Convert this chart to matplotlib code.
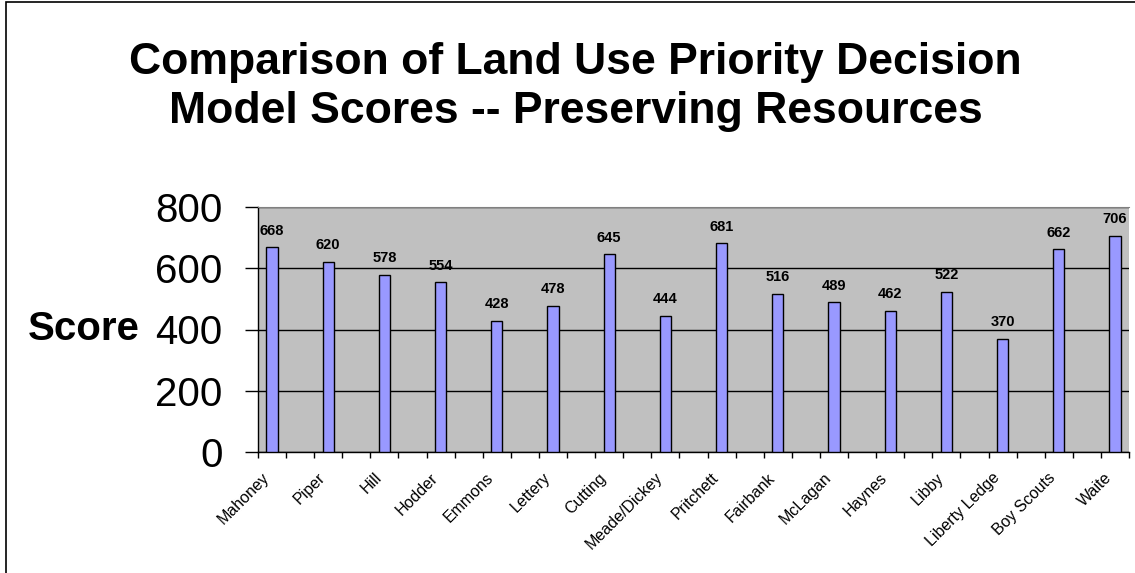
import numpy as np
import matplotlib
matplotlib.use("Agg")
import matplotlib.pyplot as plt
from matplotlib.patches import Rectangle

plt.rcParams['font.family'] = ['Liberation Sans', 'DejaVu Sans']

sites = ["Mahoney", "Piper", "Hill", "Hodder", "Emmons", "Lettery", "Cutting",
         "Meade/Dickey", "Pritchett", "Fairbank", "McLagan", "Haynes", "Libby",
         "Liberty Ledge", "Boy Scouts", "Waite"]
scores = [668, 620, 578, 554, 428, 478, 645, 444, 681, 516, 489, 462, 522, 370, 662, 706]
yticks = [0, 200, 400, 600, 800]

fig = plt.figure(figsize=(11.35, 5.73), dpi=100)
ax = fig.add_axes([258/1135, 121/573, 871/1135, 245/573])

# bars sit in every other slot (excel chart had an empty second series)
x = np.arange(len(sites)) * 2
bars = ax.bar(x, scores, width=0.4, color="#9999FF", edgecolor="black", linewidth=1, zorder=3)
ax.bar_label(bars, padding=7, fontsize=10.5, fontweight="bold")

ax.set_facecolor("#C0C0C0")
ax.set_xlim(-0.5, x[-1] + 0.5)
ax.set_ylim(0, 800)
ax.set_yticks(yticks)
ax.yaxis.grid(True, color="black", linewidth=1, zorder=1)
ax.tick_params(axis="y", labelsize=29, length=9.5, width=1, pad=16)

ax.set_xticks(x)
ax.set_xticklabels(sites, rotation=45, ha="right", fontsize=11.5)
ax.set_xticks(np.arange(-0.5, x[-1] + 1, 1), minor=True)
ax.tick_params(axis="x", which="major", length=0, pad=13)
ax.tick_params(axis="x", which="minor", length=4, width=1)

ax.spines["top"].set_color("#808080")
ax.spines["right"].set_visible(False)
ax.spines["left"].set_linewidth(1)
ax.spines["bottom"].set_linewidth(1)

fig.text(140/1135, ax.get_position().y0 + ax.get_position().height / 2, "Score",
         ha="right", va="center", fontsize=29, fontweight="bold")

fig.text(0.507, 1 - 87/573, "Comparison of Land Use Priority Decision\nModel Scores -- Preserving Resources",
         ha="center", va="center", fontsize=32, fontweight="bold", linespacing=1.27)

fig.patches.append(Rectangle((6/1135, -0.01), 1.1, 1 - 1.5/573 + 0.01, transform=fig.transFigure,
                             fill=False, edgecolor="black", linewidth=1.2))

fig.savefig("out.png", dpi=100)
